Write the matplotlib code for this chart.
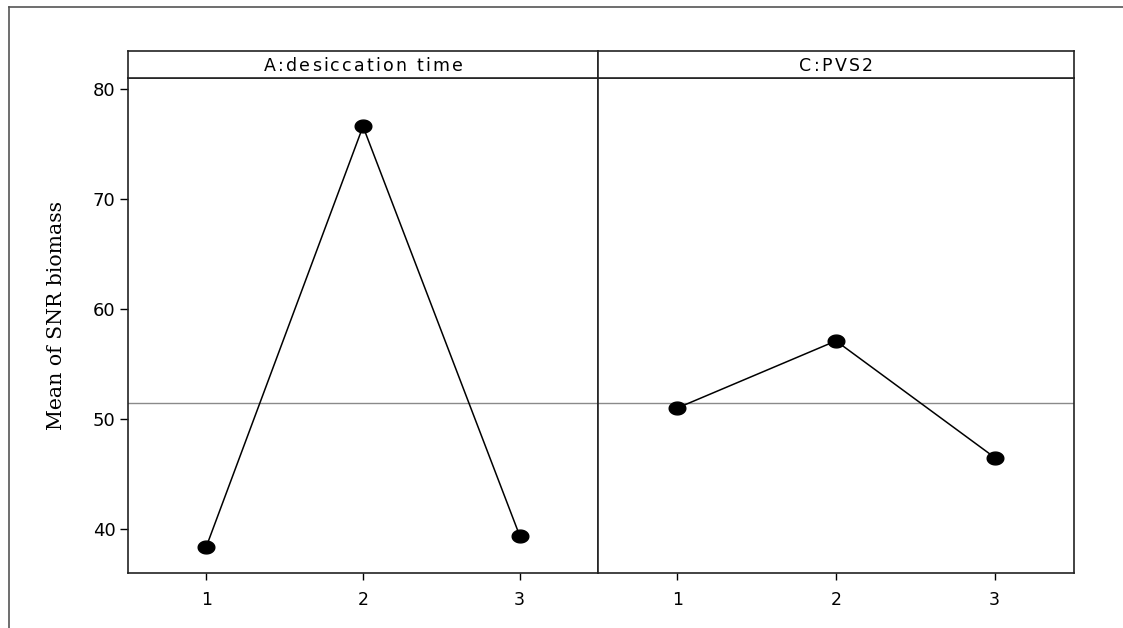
import numpy as np
import matplotlib
matplotlib.use("Agg")
import matplotlib.pyplot as plt
from matplotlib.lines import Line2D
from matplotlib.path import Path
from matplotlib.textpath import TextPath
from matplotlib.font_manager import FontProperties
import matplotlib.transforms as mtransforms

# Main-effects data (mean of SNR biomass per factor level)
levels = [1, 2, 3]
panel_titles = ["A:desiccation time", "C:PVS2"]
desiccation_means = [38.4, 76.6, 39.4]
pvs2_means = [51.0, 57.1, 46.5]
grand_mean = 51.5
y_ticks = [40, 50, 60, 70, 80]
y_label = "Mean of SNR biomass"

W, H = 1123, 628
fig = plt.figure(figsize=(W / 100, H / 100), dpi=100)
fig.patch.set_facecolor("white")

# outer frame (runs off the right and bottom edges)
fig.add_artist(Line2D([9 / W, 1.0], [1 - 7 / H, 1 - 7 / H], transform=fig.transFigure,
                      color="#555555", lw=1.2))
fig.add_artist(Line2D([9 / W, 9 / W], [1 - 7 / H, 0.0], transform=fig.transFigure,
                      color="#555555", lw=1.2))

# elliptical dot marker
t = np.linspace(0, 2 * np.pi, 40)
ellipse = Path(np.column_stack([1.3 * np.cos(t), np.sin(t)]), closed=True)


def px_rect(x0, x1, ytop, ybot):
    return [x0 / W, 1 - ybot / H, (x1 - x0) / W, (ybot - ytop) / H]


def advance(ch, prop):
    """Horizontal advance of one character, in points."""
    ext = lambda s: TextPath((0, 0), s, prop=prop).get_extents().width
    return ext("|" + ch + "|") - ext("||")


def spaced_text(ax, s, size, spacing_pt):
    """Centered title with extra tracking between characters."""
    prop = FontProperties(family="DejaVu Sans", size=size)
    widths = [advance(ch, prop) for ch in s]
    total = sum(widths) + spacing_pt * (len(s) - 1)
    x = -total / 2
    for ch, w in zip(s, widths):
        off = mtransforms.offset_copy(ax.transAxes, fig=fig, x=x, y=0, units="points")
        ax.text(0.5, 0.52, ch, ha="left", va="center_baseline", fontsize=size,
                family="DejaVu Sans", transform=off)
        x += w + spacing_pt


panels = [(128, 598), (598, 1074)]
series = [desiccation_means, pvs2_means]
plot_top, plot_bot, strip_top = 78, 573, 51

for i, ((x0, x1), title, vals) in enumerate(zip(panels, panel_titles, series)):
    ax = fig.add_axes(px_rect(x0, x1, plot_top, plot_bot))
    ax.set_xlim(0.5, 3.5)
    ax.set_ylim(36, 81)
    ax.axhline(grand_mean, color="#8a8a8a", lw=1.0, zorder=1)
    ax.plot(levels, vals, color="black", lw=1.1, zorder=2,
            marker=ellipse, markersize=12, markerfacecolor="black",
            markeredgecolor="black")
    ax.set_xticks(levels)
    ax.set_xticklabels([str(v) for v in levels])
    ax.tick_params(axis="x", direction="out", length=5, width=1, labelsize=12.5,
                   pad=8, colors="black")
    for s in ax.spines.values():
        s.set_linewidth(1.2)
        s.set_color("#222222")
    if i == 0:
        ax.set_yticks(y_ticks)
        ax.tick_params(axis="y", direction="out", length=6, width=1,
                       labelsize=13, pad=3)
        ax.set_ylabel(y_label, family="DejaVu Serif", fontsize=14.7)
        ax.yaxis.set_label_coords(-0.131, 0.521)
    else:
        ax.set_yticks([])

    # panel strip
    sax = fig.add_axes(px_rect(x0, x1, strip_top, plot_top))
    sax.set_xticks([])
    sax.set_yticks([])
    for s in sax.spines.values():
        s.set_linewidth(1.2)
        s.set_color("#222222")
    spaced_text(sax, title, 12.5, 1.6)

fig.savefig("out.png", dpi=100, facecolor="white")
